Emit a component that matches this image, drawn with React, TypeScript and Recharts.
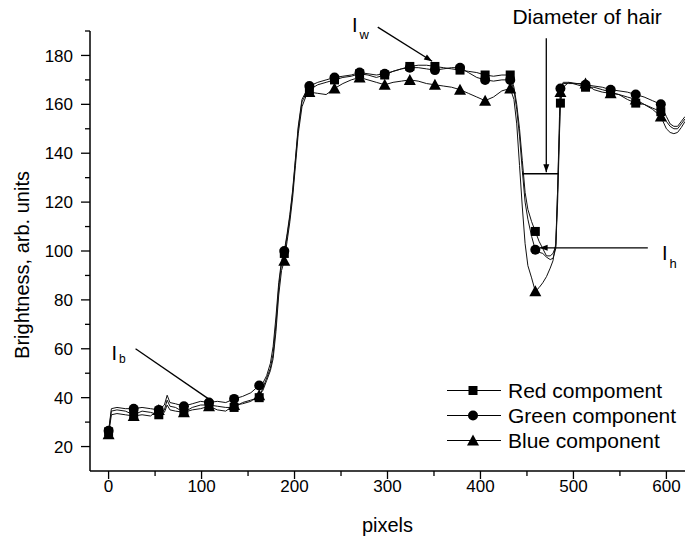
import React from "react"
import { LineChart, Line, XAxis, YAxis, Legend, ReferenceLine, ReferenceDot } from "recharts"

// pixel position along the scan line
const pixels = [
  0, 3, 9, 18, 27, 36, 45, 54, 60, 63,
  66, 72, 81, 90, 99, 108, 117, 126, 135, 144,
  153, 162, 166, 170, 174, 177, 180, 183, 186, 189,
  192, 195, 198, 201, 204, 208, 212, 216, 225, 234,
  243, 252, 261, 270, 279, 288, 297, 306, 315, 324,
  333, 342, 351, 360, 369, 378, 387, 396, 405, 414,
  423, 432, 436, 439, 442, 445, 448, 451, 455, 459,
  463, 467, 471, 475, 478, 481, 483, 485, 486, 489,
  495, 504, 513, 522, 531, 540, 549, 558, 567, 576,
  585, 594, 600, 604, 608, 612, 616, 620,
]

const red = [
  26, 34.5, 35, 34.5, 33, 34.5, 34, 33, 35, 39,
  36.5, 36, 34, 36, 37, 37, 36.5, 36, 36, 38,
  39, 40, 44, 48, 52, 58, 70, 85, 95, 99,
  106, 114, 124, 137, 150, 161, 164, 166, 168, 169,
  170, 171, 171.5, 172.5, 172, 171, 172, 173.5, 174.5, 175.5,
  176, 176, 175.5, 175, 174.5, 174, 173.5, 173, 172, 171.5,
  172, 172, 167, 160, 150, 137, 124, 117, 112, 108,
  104, 101, 98, 98, 99, 102, 120, 148, 160.5, 167,
  169, 168, 167, 167, 166, 165, 164, 162, 160.5, 160,
  158.5, 157, 153, 151, 150, 150, 152, 154,
]

const green = [
  26.5, 35.5, 36, 35.5, 35.5, 36, 35.5, 35, 37, 41,
  38, 37.5, 36.5, 37.5, 38.5, 38, 38.5, 38, 39.5, 40.5,
  42, 45, 46, 49, 54, 61, 73, 87, 96, 100,
  107, 115, 125, 138, 151, 162, 165, 167.5, 169, 170,
  171, 171.5, 172, 173, 172.5, 172, 172.5, 173.5, 174.5, 175,
  175, 174.5, 174, 174.5, 175, 175, 173, 171, 170, 169.5,
  170, 170, 166, 158, 147, 133, 120, 113, 106, 100.5,
  99.5, 99, 97.5, 96.5, 97, 101, 125, 155, 166.5, 169,
  169, 168.5, 168, 167.5, 167, 166, 165.5, 165, 164, 163,
  161.5, 160, 155, 152, 151, 151, 153, 155,
]

const blue = [
  25, 33, 33.5, 33, 32.5, 33, 32.5, 35, 34, 37,
  35, 34.5, 34, 35, 35.5, 36.5, 35, 34.5, 37, 37.5,
  38.5, 41, 43, 47, 51, 56, 67, 82, 92, 96,
  104, 112, 122, 135, 148, 159, 163, 165, 164.5, 164,
  166.5, 168.5, 170, 171, 170, 169, 168, 169, 169.5, 170,
  169.5, 168.5, 168, 167.5, 167, 166, 164.5, 163, 161.5, 163,
  165.5, 166.5, 162, 152, 135, 118, 103, 94, 89, 83.5,
  85, 87, 89.5, 93, 96, 103, 125, 150, 165, 168.5,
  168.5, 168.5, 168.5, 166, 165, 164.5, 164, 163, 162, 160,
  158, 155, 150, 148.5, 148, 148.5, 150.5, 153,
]

// pixels where the plotted symbols sit
const markerPixels = [0, 27, 54, 81, 108, 135, 162, 189, 216, 243, 270, 297, 324, 351, 378, 405, 432, 459, 486, 513, 540, 567, 594]

const xTicks = [0, 50, 100, 150, 200, 250, 300, 350, 400, 450, 500, 550, 600]
const yTicks = [20, 30, 40, 50, 60, 70, 80, 90, 100, 110, 120, 130, 140, 150, 160, 170, 180, 190]

// annotation arrows, in data units
const arrowIw = [{ x: 289.5, y: 191.6 }, { x: 348, y: 177.6 }]
const lineIb = [{ x: 29, y: 60 }, { x: 107.5, y: 39.5 }]
const arrowDiameter = [{ x: 470.8, y: 187 }, { x: 470.8, y: 132.2 }]
const diameterBar = [{ x: 445, y: 131.6 }, { x: 484, y: 131.6 }]
const arrowIh = [{ x: 580, y: 101.3 }, { x: 463.6, y: 101.3 }]

const legendOrder = ["red", "green", "blue"]

const FONT = "'Liberation Sans', Arial, Helvetica, sans-serif"

const data = pixels.map((x, i) => ({ x, red: red[i], green: green[i], blue: blue[i] }))

const markerOf: Record<string, string> = { red: "square", green: "circle", blue: "triangle" }

function Marker({ type, cx, cy }: { type: string; cx: number; cy: number }) {
  if (type === "square") return <rect x={cx - 4.5} y={cy - 4.5} width={9} height={9} fill="#000" />
  if (type === "circle") return <circle cx={cx} cy={cy} r={5} fill="#000" />
  return <polygon points={`${cx},${cy - 6} ${cx - 6},${cy + 5} ${cx + 6},${cy + 5}`} fill="#000" />
}

const dotFor = (type: string) => (props: any) => {
  const { cx, cy, payload, index } = props
  if (!markerPixels.includes(payload.x)) return <g key={`n${index}`} />
  return <Marker key={`m${index}`} type={type} cx={cx} cy={cy} />
}

const arrow = (withHead: boolean) => (props: any) => {
  const { x1, y1, x2, y2 } = props
  let head = null
  if (withHead) {
    const a = Math.atan2(y2 - y1, x2 - x1)
    const L = 8
    const W = 3
    const bx = x2 - L * Math.cos(a)
    const by = y2 - L * Math.sin(a)
    const pts = `${x2},${y2} ${bx + W * Math.sin(a)},${by - W * Math.cos(a)} ${bx - W * Math.sin(a)},${by + W * Math.cos(a)}`
    head = <polygon points={pts} fill="#000" />
  }
  return (
    <g>
      <line x1={x1} y1={y1} x2={x2} y2={y2} stroke="#000" strokeWidth={1.3} />
      {head}
    </g>
  )
}

const subLabel = (main: string, sub: string, subDy: number, subSize: number) => (props: any) => (
  <text x={props.cx} y={props.cy} fontFamily={FONT} fontSize={20} fill="#000" stroke="none">
    {main}
    <tspan dx={2} dy={subDy} fontSize={subSize} fill="#000">{sub}</tspan>
  </text>
)

const plainLabel = (value: string) => (props: any) => (
  <text x={props.cx} y={props.cy} textAnchor="middle" fontFamily={FONT} fontSize={21} fill="#000" stroke="none">
    {value}
  </text>
)

const xTick = (props: any) => {
  const { x, y, payload } = props
  const major = payload.value % 100 === 0
  return (
    <g>
      <line x1={x} y1={y} x2={x} y2={y + (major ? 8 : 5)} stroke="#000" strokeWidth={1.3} />
      {major && (
        <text x={x} y={y + 21} textAnchor="middle" fontFamily={FONT} fontSize={17} fill="#000">
          {payload.value}
        </text>
      )}
    </g>
  )
}

const yTick = (props: any) => {
  const { x, y, payload } = props
  const major = payload.value % 20 === 0
  return (
    <g>
      <line x1={x - (major ? 9 : 5)} y1={y} x2={x} y2={y} stroke="#000" strokeWidth={1.3} />
      {major && (
        <text x={x - 17} y={y} dy="0.36em" textAnchor="end" fontFamily={FONT} fontSize={17} fill="#000">
          {payload.value}
        </text>
      )}
    </g>
  )
}

const renderLegend = (props: any) => {
  const items = [...(props.payload || [])].sort(
    (a: any, b: any) => legendOrder.indexOf(a.dataKey) - legendOrder.indexOf(b.dataKey)
  )
  return (
    <div style={{ fontFamily: FONT, fontSize: 21, color: "#000" }}>
      {items.map((entry: any, i: number) => (
        <div key={i} style={{ display: "flex", alignItems: "center", height: 25, lineHeight: "25px" }}>
          <svg width={54} height={25}>
            <line x1={0} y1={12.5} x2={54} y2={12.5} stroke="#000" strokeWidth={1} />
            <Marker type={markerOf[entry.dataKey]} cx={26} cy={12.5} />
          </svg>
          <span style={{ marginLeft: 7 }}>{entry.value}</span>
        </div>
      ))}
    </div>
  )
}

export default function App() {
  return (
    <div style={{ position: "absolute", left: 0, top: 0, width: 685, height: 543, overflow: "hidden", background: "#fff" }}>
      <LineChart width={685} height={543} data={data} margin={{ top: 31, right: 0, bottom: 0, left: 0 }}>
        <XAxis
          type="number"
          dataKey="x"
          domain={[-20, 620]}
          allowDataOverflow
          ticks={xTicks}
          interval={0}
          tick={xTick}
          tickLine={false}
          tickSize={0}
          tickMargin={0}
          height={72}
          axisLine={{ stroke: "#000", strokeWidth: 1.5 }}
          label={(p: any) => {
            const vb = p.viewBox || { x: 90, y: 471, width: 595 }
            return (
              <text x={vb.x + vb.width / 2} y={vb.y + 61} textAnchor="middle" fontFamily={FONT} fontSize={20} fill="#000">
                pixels
              </text>
            )
          }}
        />
        <YAxis
          type="number"
          domain={[10, 190]}
          allowDataOverflow
          ticks={yTicks}
          interval={0}
          tick={yTick}
          tickLine={false}
          tickSize={0}
          tickMargin={0}
          width={90}
          axisLine={{ stroke: "#000", strokeWidth: 1.5 }}
          label={(p: any) => {
            const vb = p.viewBox || { x: 0, y: 31, height: 440 }
            const cx = vb.x + 22
            const cy = vb.y + vb.height / 2 + 14
            return (
              <text
                x={cx}
                y={cy}
                transform={`rotate(-90 ${cx} ${cy})`}
                textAnchor="middle"
                dominantBaseline="central"
                fontFamily={FONT}
                fontSize={20}
                fill="#000"
              >
                Brightness, arb. units
              </text>
            )
          }}
        />
        <Line
          type="linear"
          dataKey="red"
          name="Red compoment"
          stroke="#111"
          strokeWidth={1}
          dot={dotFor("square")}
          activeDot={false}
          legendType="square"
          isAnimationActive={false}
        />
        <Line
          type="linear"
          dataKey="green"
          name="Green component"
          stroke="#111"
          strokeWidth={1}
          dot={dotFor("circle")}
          activeDot={false}
          legendType="circle"
          isAnimationActive={false}
        />
        <Line
          type="linear"
          dataKey="blue"
          name="Blue component"
          stroke="#111"
          strokeWidth={1}
          dot={dotFor("triangle")}
          activeDot={false}
          legendType="triangle"
          isAnimationActive={false}
        />

        <ReferenceLine segment={arrowIw} ifOverflow="visible" shape={arrow(true)} />
        <ReferenceLine segment={lineIb} ifOverflow="visible" shape={arrow(false)} />
        <ReferenceLine segment={arrowDiameter} ifOverflow="visible" shape={arrow(true)} />
        <ReferenceLine segment={diameterBar} ifOverflow="visible" shape={arrow(false)} />
        <ReferenceLine segment={arrowIh} ifOverflow="visible" shape={arrow(true)} />

        <ReferenceDot x={261.7} y={189.5} r={0} ifOverflow="visible" shape={subLabel("I", "w", 7, 13)} />
        <ReferenceDot x={3} y={55.6} r={0} ifOverflow="visible" shape={subLabel("I", "b", 3, 12)} />
        <ReferenceDot x={595.3} y={96.5} r={0} ifOverflow="visible" shape={subLabel("I", "h", 8, 13)} />
        <ReferenceDot x={514.7} y={192.7} r={0} ifOverflow="visible" shape={plainLabel("Diameter of hair")} />

        <Legend
          layout="vertical"
          align="center"
          verticalAlign="middle"
          content={renderLegend}
          wrapperStyle={{ left: 447, top: 378, width: 238 }}
        />
      </LineChart>
    </div>
  )
}
